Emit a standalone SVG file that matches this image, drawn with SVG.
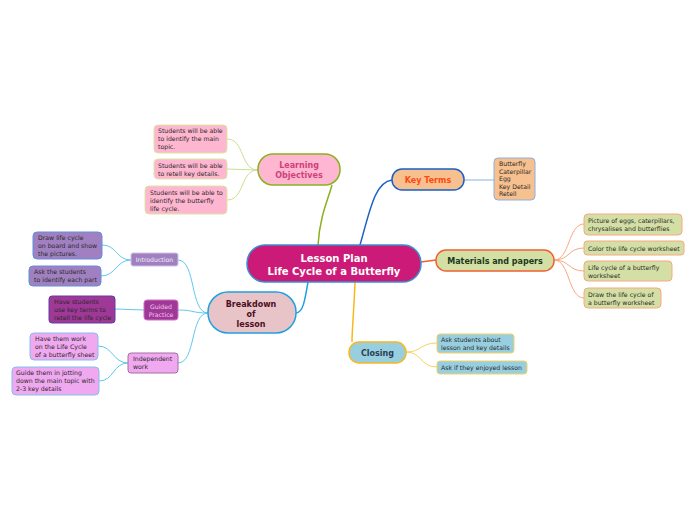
<svg xmlns="http://www.w3.org/2000/svg" width="696" height="520" viewBox="0 0 696 520">
<style>
text{font-family:"DejaVu Sans",Verdana,sans-serif}
.s{font-size:6.2px;fill:#2a2a2a}
</style>
<rect width="696" height="520" fill="#ffffff"/>
<g id="connectors" fill="none">
<path d="M318,245 C320,215 328,200 332,185" stroke="#8cb020" stroke-width="1.5"/>
<path d="M360,245 C370,210 375,182 392,180" stroke="#1a5fc8" stroke-width="1.5"/>
<path d="M421,262 L436,260" stroke="#f06030" stroke-width="1.5"/>
<path d="M355,282 C354,310 352,330 352,342" stroke="#f8b820" stroke-width="1.5"/>
<path d="M308,282 C305,300 303,313 296,313" stroke="#20a0e0" stroke-width="1.5"/>
<path d="M258,170 C240,170 245,139 227,139 M258,170 L227,169 M258,170 C240,170 245,200 227,200" stroke="#c8e090"/>
<path d="M464,180 L494,180" stroke="#8ab0e0"/>
<path d="M554,260 C570,260 568,224 584,224 M554,260 C570,260 568,248 584,248 M554,260 C570,260 568,271 584,271 M554,260 C570,260 568,298 584,298" stroke="#f8a880"/>
<path d="M406,352 C422,352 420,343 437,343 M406,352 C422,352 420,367 437,367" stroke="#f8d060"/>
<path d="M208,313 C190,313 196,260 178,260 M208,313 C192,313 194,310 178,310 M208,313 C190,313 196,363 178,363" stroke="#60c8f0"/>
<path d="M131,260 C116,260 117,245 102,245 M131,260 C116,260 116,276 101,276" stroke="#60c8f0"/>
<path d="M144,310 L115,309" stroke="#60c8f0"/>
<path d="M128,363 C113,363 113,346 98,346 M128,363 C113,363 114,381 99,381" stroke="#60c8f0"/>
</g>
<g id="central">
<rect x="247" y="245" width="174" height="37" rx="18" fill="#cc1a78" stroke="#3a8fd0" stroke-width="1.5"/>
<text x="334" y="262" text-anchor="middle" font-size="10" font-weight="bold" fill="#fff">Lesson Plan</text>
<text x="334" y="275" text-anchor="middle" font-size="10" font-weight="bold" fill="#fff">Life Cycle of a Butterfly</text>
</g>
<g id="learning-objectives">
<rect x="258" y="154" width="82" height="31" rx="15" fill="#ffb6d0" stroke="#8cb020" stroke-width="1.5"/>
<text x="299" y="168" text-anchor="middle" font-size="8" font-weight="bold" fill="#d0407a">Learning</text>
<text x="299" y="178" text-anchor="middle" font-size="8" font-weight="bold" fill="#d0407a">Objectives</text>
</g>
<g id="lo1">
<rect x="154" y="125" width="73" height="28" rx="4" fill="#ffb6d0" stroke="#d8e8a0"/>
<text class="s" x="158" y="133">Students will be able</text>
<text class="s" x="158" y="141">to identify the main</text>
<text class="s" x="158" y="149">topic.</text>
</g>
<g id="lo2">
<rect x="154" y="159" width="73" height="20" rx="4" fill="#ffb6d0" stroke="#d8e8a0"/>
<text class="s" x="158" y="168">Students will be able</text>
<text class="s" x="158" y="176">to retell key details.</text>
</g>
<g id="lo3">
<rect x="145" y="186" width="82" height="28" rx="4" fill="#ffb6d0" stroke="#d8e8a0"/>
<text class="s" x="150" y="195">Students will be able to</text>
<text class="s" x="150" y="203">identify the butterfly</text>
<text class="s" x="150" y="211">life cycle.</text>
</g>
<g id="key-terms">
<rect x="392" y="169" width="72" height="21" rx="10" fill="#f7c08f" stroke="#1a5fc8" stroke-width="1.5"/>
<text x="428" y="183" text-anchor="middle" font-size="8" font-weight="bold" fill="#ff4a10">Key Terms</text>
</g>
<g id="key-terms-list">
<rect x="494" y="158" width="41" height="42" rx="4" fill="#f7c08f" stroke="#8ab0e0"/>
<text class="s" x="499" y="166">Butterfly</text>
<text class="s" x="499" y="173.5">Caterpillar</text>
<text class="s" x="499" y="181">Egg</text>
<text class="s" x="499" y="188.5">Key Detail</text>
<text class="s" x="499" y="196">Retell</text>
</g>
<g id="materials">
<rect x="436" y="250" width="118" height="21" rx="10" fill="#d4dfa5" stroke="#f06030" stroke-width="1.5"/>
<text x="495" y="264" text-anchor="middle" font-size="8" font-weight="bold" fill="#1a3a1a">Materials and papers</text>
</g>
<g id="m1">
<rect x="584" y="214" width="98" height="21" rx="4" fill="#d4dfa5" stroke="#f8a880"/>
<text class="s" x="588" y="223">Picture of eggs, caterpillars,</text>
<text class="s" x="588" y="231">chrysalises and butterflies</text>
</g>
<g id="m2">
<rect x="584" y="241" width="100" height="14" rx="3" fill="#d4dfa5" stroke="#f8a880"/>
<text class="s" x="588" y="250.5">Color the life cycle worksheet</text>
</g>
<g id="m3">
<rect x="584" y="261" width="88" height="20" rx="4" fill="#d4dfa5" stroke="#f8a880"/>
<text class="s" x="588" y="270">Life cycle of a butterfly</text>
<text class="s" x="588" y="278">worksheet</text>
</g>
<g id="m4">
<rect x="584" y="288" width="77" height="20" rx="4" fill="#d4dfa5" stroke="#f8a880"/>
<text class="s" x="588" y="297">Draw the life cycle of</text>
<text class="s" x="588" y="305">a butterfly worksheet</text>
</g>
<g id="closing">
<rect x="349" y="342" width="57" height="21" rx="10" fill="#98cfe0" stroke="#f8b820" stroke-width="1.5"/>
<text x="377.5" y="356" text-anchor="middle" font-size="8" font-weight="bold" fill="#2a4050">Closing</text>
</g>
<g id="c1">
<rect x="437" y="334" width="77" height="19" rx="3" fill="#98cfe0" stroke="#f8d060"/>
<text class="s" x="441" y="342">Ask students about</text>
<text class="s" x="441" y="350">lesson and key details</text>
</g>
<g id="c2">
<rect x="437" y="361" width="90" height="13" rx="3" fill="#98cfe0" stroke="#f8d060"/>
<text class="s" x="441" y="370">Ask if they enjoyed lesson</text>
</g>
<g id="breakdown">
<rect x="208" y="292" width="88" height="41" rx="20" fill="#e8c4c8" stroke="#20a0e0" stroke-width="1.5"/>
<text x="251" y="307" text-anchor="middle" font-size="8" font-weight="bold" fill="#4a1020">Breakdown</text>
<text x="251" y="317" text-anchor="middle" font-size="8" font-weight="bold" fill="#4a1020">of</text>
<text x="251" y="327" text-anchor="middle" font-size="8" font-weight="bold" fill="#4a1020">lesson</text>
</g>
<g id="introduction">
<rect x="131" y="253" width="47" height="13" rx="2" fill="#a080c0" stroke="#d0c0e8"/>
<text x="154.5" y="262" text-anchor="middle" font-size="6.2" fill="#f4eefa">Introduction</text>
</g>
<g id="i1">
<rect x="33" y="232" width="69" height="27" rx="4" fill="#a080c0" stroke="#6090e0"/>
<text class="s" x="38" y="240">Draw life cycle</text>
<text class="s" x="38" y="248">on board and show</text>
<text class="s" x="38" y="256">the pictures.</text>
</g>
<g id="i2">
<rect x="29" y="266" width="72" height="20" rx="4" fill="#a080c0" stroke="#6090e0"/>
<text class="s" x="34" y="274">Ask the students</text>
<text class="s" x="34" y="282">to identify each part</text>
</g>
<g id="guided">
<rect x="144" y="300" width="34" height="20" rx="3" fill="#a03898" stroke="#d070c8"/>
<text x="161" y="309" text-anchor="middle" font-size="6.2" fill="#f0c8ec">Guided</text>
<text x="161" y="317" text-anchor="middle" font-size="6.2" fill="#f0c8ec">Practice</text>
</g>
<g id="g1">
<rect x="49" y="296" width="66" height="27" rx="3" fill="#a03898" stroke="#6040a0"/>
<text class="s" x="54" y="304">Have students</text>
<text class="s" x="54" y="312">use key terms to</text>
<text class="s" x="54" y="320">retell the life cycle</text>
</g>
<g id="independent">
<rect x="128" y="353" width="50" height="20" rx="3" fill="#f0a8f0" stroke="#a070a0"/>
<text class="s" x="133" y="361" fill="#503050">Independent</text>
<text class="s" x="133" y="369" fill="#503050">work</text>
</g>
<g id="ind1">
<rect x="30" y="333" width="68" height="27" rx="4" fill="#f0a8f0" stroke="#80c0f0"/>
<text class="s" x="35" y="341">Have them work</text>
<text class="s" x="35" y="349">on the Life Cycle</text>
<text class="s" x="35" y="357">of a butterfly sheet</text>
</g>
<g id="ind2">
<rect x="12" y="367" width="87" height="28" rx="4" fill="#f0a8f0" stroke="#80c0f0"/>
<text class="s" x="16" y="375">Guide them in jotting</text>
<text class="s" x="16" y="383">down the main topic with</text>
<text class="s" x="16" y="391">2-3 key details</text>
</g>
</svg>
